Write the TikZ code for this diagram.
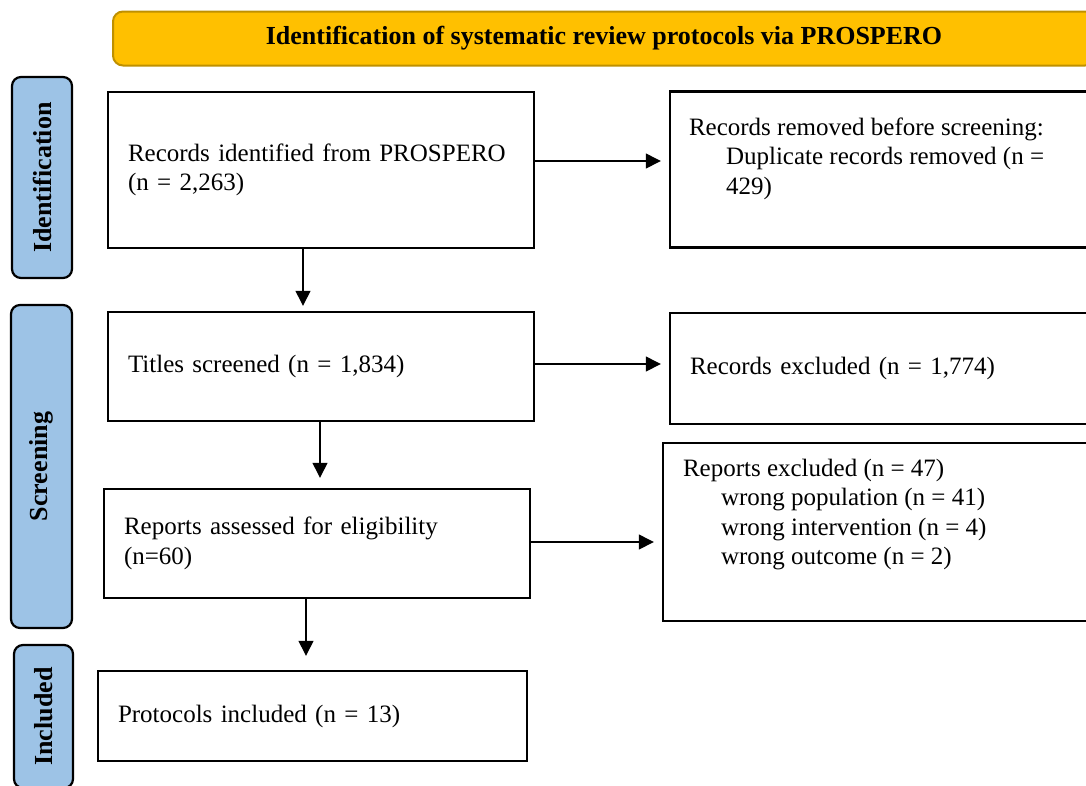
\documentclass[tikz,border=0pt]{standalone}
\usepackage{fontspec}
\setmainfont{Liberation Serif}
\usetikzlibrary{positioning, arrows.meta}
\definecolor{bannerfill}{HTML}{FFC000}
\definecolor{bannerline}{HTML}{BF9000}
\definecolor{stagefill}{HTML}{9DC3E6}

\begin{document}
\begin{tikzpicture} % one unit is one pixel of the 1086x785 picture, y runs down
    [x = 1pt, y = -1pt,
      box/.style={draw, line width = 2.4pt, inner xsep = 20pt, align = left,
        font = \fontsize{25}{29.5}\selectfont},
      frame/.style={draw, line width = 2.4pt, inner sep = 0pt},
      note/.style={inner sep = 0pt, align = left, font = \fontsize{25}{29.5}\selectfont},
      stage/.style={draw, line width = 2.2pt, fill = stagefill, rounded corners = 9pt,
        rotate = 90, inner sep = 0pt, font = \bfseries\fontsize{26}{30}\selectfont},
      banner/.style={draw = bannerline, line width = 2pt, fill = bannerfill,
        rounded corners = 10pt, font = \bfseries\fontsize{26}{30}\selectfont},
      arr/.style={-{Triangle[width = 15pt, length = 15pt]}, line width = 1.3pt}]
    \useasboundingbox (0,0) rectangle (1086,785);
    \clip (-10,-10) rectangle (1086,795);

    % heading, runs out of the picture on the right
    \node[banner, minimum width = 982pt, minimum height = 54pt] (head) at (604,38.5)
      {Identification of systematic review protocols via PROSPERO};

    % stages on the left
    \node[stage, minimum width = 201pt, minimum height = 60pt] (stident) at (42,177.5) {Identification};
    \node[stage, minimum width = 323pt, minimum height = 61pt] (stscreen) at (41.5,466.5) {Screening};
    \node[stage, minimum width = 143pt, minimum height = 59pt] (stincl) at (43.5,716.5) {Included};

    % main column
    \node[box, minimum width = 426pt, minimum height = 156pt, text width = 386pt] (ident) at (321,170)
      {Records identified from PROSPERO\\(n = 2,263)};
    \node[box, minimum width = 426pt, minimum height = 109pt, text width = 386pt] (screen) at (321,366.5)
      {Titles screened (n = 1,834)};
    \node[box, minimum width = 426pt, minimum height = 109pt, text width = 386pt] (assess) at (317,543.5)
      {Reports assessed for eligibility\\(n=60)};
    \node[box, minimum width = 429pt, minimum height = 90pt, text width = 389pt] (incl) at (312.5,716)
      {Protocols included (n = 13)};

    % side column, cut off on the right as well
    \node[frame, minimum width = 500pt, minimum height = 156pt] (remf) at (920,169.5) {};
    \node[note, below right = 27pt and 20pt of remf.north west] (rem)
      {Records removed before screening:\\
       \hspace*{37pt}Duplicate records removed (n =\\
       \hspace*{37pt}429)};
    \node[box, minimum width = 500pt, minimum height = 111pt, text width = 460pt] (excl) at (920,368.5)
      {Records excluded (n = 1,774)};
    \node[frame, minimum width = 507pt, minimum height = 178pt] (repf) at (916.5,532) {};
    \node[note, below right = 17pt and 21pt of repf.north west] (rep)
      {Reports excluded (n = 47)\\
       \hspace*{38pt}wrong population (n = 41)\\
       \hspace*{38pt}wrong intervention (n = 4)\\
       \hspace*{38pt}wrong outcome (n = 2)};

    % arrows down
    \draw[arr, shorten > = 5pt] ([xshift = -18pt]ident.south) -- ([xshift = -18pt]ident.south |- screen.north);
    \draw[arr, shorten > = 10pt] ([xshift = -1pt]screen.south) -- ([xshift = -1pt]screen.south |- assess.north);
    \draw[arr, shorten > = 14pt] ([xshift = -11pt]assess.south) -- ([xshift = -11pt]assess.south |- incl.north);
    % arrows across
    \draw[arr, shorten > = 8pt] ([yshift = 9pt]ident.east) -- ([yshift = 9pt]ident.east -| remf.west);
    \draw[arr, shorten > = 8pt] ([yshift = 2.5pt]screen.east) -- ([yshift = 2.5pt]screen.east -| excl.west);
    \draw[arr, shorten > = 8pt] ([yshift = 1.5pt]assess.east) -- ([yshift = 1.5pt]assess.east -| repf.west);
\end{tikzpicture}
\end{document}
